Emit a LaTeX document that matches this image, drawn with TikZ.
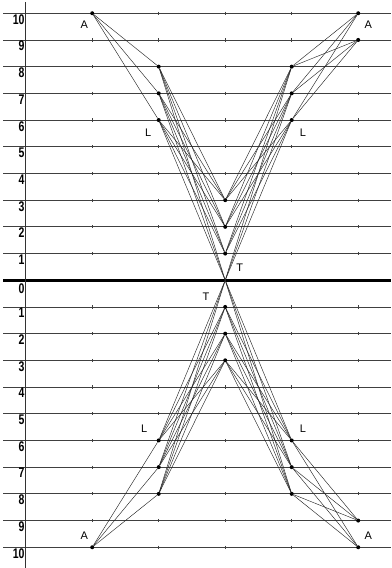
\documentclass[tikz,border=0pt]{standalone}
\usepackage{fontspec}
\setmainfont{Liberation Sans}
\newfontfamily\lvlfont[FakeStretch=0.75]{Liberation Sans}
\begin{document}
\begin{tikzpicture}[x=66.5pt,y=26.7pt,
    dot/.style={circle,fill=black,inner sep=0pt,minimum size=4pt},
    lvl/.style={anchor=north east,inner sep=1pt,font=\lvlfont\bfseries\fontsize{14}{14}\selectfont},
    lbl/.style={font=\fontsize{11}{11}\selectfont},
    grid/.style={black!75,line width=0.8pt},
    ray/.style={black!85,line width=0.45pt}]
  \useasboundingbox (-0.3865,-10.777) rectangle (5.4932,10.496);
    % levels and ticks
    \foreach \y in {1,...,10} {
      \draw[grid] (-0.34,\y) -- (5.4932,\y);
      \draw[grid] (-0.34,-\y) -- (5.4932,-\y);
      \foreach \x in {0,...,5} {
        \draw[grid] (\x,\y+0.06) -- (\x,\y-0.06);
        \draw[grid] (\x,-\y+0.06) -- (\x,-\y-0.06);
      }
      \node[lvl] (up\y) at (0,\y) {\y};
      \node[lvl] (dn\y) at (0,-\y) {\y};
    }
    \draw[black,line width=2.6pt] (-0.34,0) -- (5.4932,0);
    \node[lvl] (zero) at (0,-0.08) {0};
    \draw[black!80,line width=0.8pt] (0,10.42) -- (0,-10.777);
    % points
    \node[dot] (aul) at (1,10) {};
    \node[dot] (aur10) at (5,10) {};
    \node[dot] (aur9) at (5,9) {};
    \node[dot] (adl) at (1,-10) {};
    \node[dot] (adr10) at (5,-10) {};
    \node[dot] (adr9) at (5,-9) {};
    \foreach \i in {6,7,8} {
      \node[dot] (lu\i) at (2,\i) {};
      \node[dot] (ru\i) at (4,\i) {};
      \node[dot] (ld\i) at (2,-\i) {};
      \node[dot] (rd\i) at (4,-\i) {};
    }
    \foreach \j in {1,2,3} {
      \node[dot] (cu\j) at (3,\j) {};
      \node[dot] (cd\j) at (3,-\j) {};
    }
    \coordinate (tt) at (3,0);
    % rays
    \foreach \i in {6,7,8} {
      \draw[ray] (aul) -- (lu\i);
      \draw[ray] (aur10) -- (ru\i);
      \draw[ray] (aur9) -- (ru\i);
      \draw[ray] (adl) -- (ld\i);
      \draw[ray] (adr10) -- (rd\i);
      \draw[ray] (adr9) -- (rd\i);
      \draw[ray] (lu\i) -- (tt); \draw[ray] (ru\i) -- (tt);
      \draw[ray] (ld\i) -- (tt); \draw[ray] (rd\i) -- (tt);
      \foreach \j in {1,2,3} {
        \draw[ray] (lu\i) -- (cu\j);
        \draw[ray] (ru\i) -- (cu\j);
        \draw[ray] (ld\i) -- (cd\j);
        \draw[ray] (rd\i) -- (cd\j);
      }
    }
    % letters
    \node[lbl] (txtaul) at (0.88,9.57) {A};
    \node[lbl] (txtaur) at (5.15,9.57) {A};
    \node[lbl] (txtadl) at (0.88,-9.55) {A};
    \node[lbl] (txtadr) at (5.15,-9.55) {A};
    \node[lbl] (txtlul) at (1.84,5.52) {L};
    \node[lbl] (txtlur) at (4.17,5.52) {L};
    \node[lbl] (txtldl) at (1.78,-5.56) {L};
    \node[lbl] (txtldr) at (4.17,-5.56) {L};
    \node[lbl] (txttu) at (3.22,0.47) {T};
    \node[lbl] (txttd) at (2.71,-0.62) {T};
  \end{tikzpicture}
\end{document}
